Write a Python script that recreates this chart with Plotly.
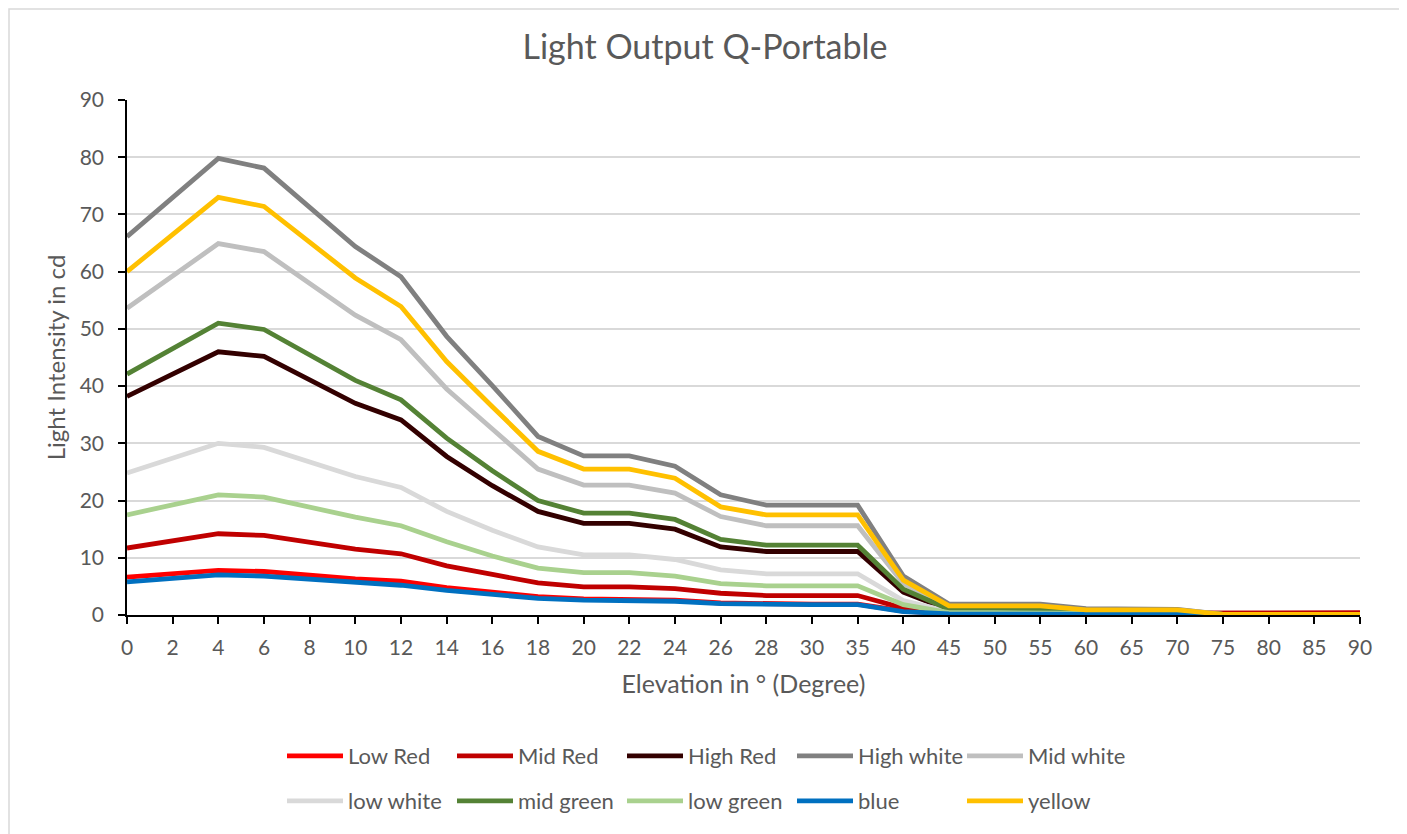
import plotly.graph_objects as go

elevation = ["0", "2", "4", "6", "8", "10", "12", "14", "16", "18", "20", "22", "24", "26",
             "28", "30", "35", "40", "45", "50", "55", "60", "65", "70", "75", "80", "85", "90"]

low_red    = [6.6, 7.2, 7.8, 7.6, 6.9, 6.3, 5.9, 4.8, 4.0, 3.2, 2.8, 2.8, 2.6, 2.1, 1.9, 1.9, 1.9, 0.7, 0.2, 0.2, 0.2, 0.1, 0.1, 0.1, 0.0, 0.0, 0.0, 0.0]
mid_red    = [11.7, 13.0, 14.2, 13.9, 12.7, 11.5, 10.7, 8.6, 7.1, 5.6, 4.9, 4.9, 4.6, 3.8, 3.4, 3.4, 3.4, 1.2, 0.3, 0.3, 0.3, 0.3, 0.3, 0.3, 0.4, 0.4, 0.4, 0.4]
high_red   = [38.2, 42.1, 46.0, 45.2, 41.1, 37.0, 34.1, 27.7, 22.6, 18.1, 16.0, 16.0, 15.0, 11.9, 11.1, 11.1, 11.1, 4.0, 0.9, 0.9, 0.9, 0.5, 0.5, 0.5, 0.1, 0.1, 0.1, 0.1]
high_white = [66.1, 73.0, 79.8, 78.1, 71.3, 64.4, 59.1, 48.7, 40.1, 31.2, 27.8, 27.8, 26.0, 21.0, 19.2, 19.2, 19.2, 6.8, 1.9, 1.9, 1.9, 1.1, 1.1, 1.0, 0.1, 0.1, 0.1, 0.1]
mid_white  = [53.6, 59.2, 64.9, 63.5, 58.0, 52.4, 48.1, 39.5, 32.5, 25.5, 22.7, 22.7, 21.3, 17.2, 15.6, 15.6, 15.6, 5.5, 1.4, 1.4, 1.4, 0.8, 0.8, 0.8, 0.1, 0.1, 0.1, 0.1]
low_white  = [24.8, 27.4, 30.0, 29.3, 26.7, 24.2, 22.3, 18.1, 14.8, 11.9, 10.5, 10.5, 9.7, 7.9, 7.2, 7.2, 7.2, 2.5, 0.6, 0.6, 0.6, 0.3, 0.3, 0.3, 0.0, 0.0, 0.0, 0.0]
mid_green  = [42.1, 46.5, 51.0, 49.9, 45.4, 41.0, 37.6, 30.9, 25.2, 20.0, 17.8, 17.8, 16.7, 13.2, 12.2, 12.2, 12.2, 4.5, 1.0, 1.0, 1.0, 0.6, 0.6, 0.6, 0.1, 0.1, 0.1, 0.1]
low_green  = [17.5, 19.2, 21.0, 20.6, 18.8, 17.1, 15.6, 12.8, 10.3, 8.2, 7.4, 7.4, 6.8, 5.5, 5.1, 5.1, 5.1, 1.8, 0.4, 0.4, 0.4, 0.2, 0.2, 0.2, 0.0, 0.0, 0.0, 0.0]
blue       = [5.8, 6.4, 7.0, 6.8, 6.2, 5.6, 5.2, 4.3, 3.5, 2.9, 2.6, 2.6, 2.4, 2.0, 1.8, 1.8, 1.8, 0.6, 0.2, 0.2, 0.2, 0.2, 0.2, 0.2, 0.0, 0.0, 0.0, 0.0]
yellow     = [60.0, 66.5, 73.0, 71.4, 65.1, 58.9, 53.9, 44.3, 36.4, 28.6, 25.5, 25.5, 23.9, 18.9, 17.5, 17.5, 17.5, 6.1, 1.6, 1.6, 1.6, 0.9, 0.9, 0.9, 0.1, 0.1, 0.1, 0.1]

series_names = ["Low Red", "Mid Red", "High Red", "High white", "Mid white",
                "low white", "mid green", "low green", "blue", "yellow"]
series_values = [low_red, mid_red, high_red, high_white, mid_white,
                 low_white, mid_green, low_green, blue, yellow]
series_colors = ["#FF0000", "#C00000", "#330000", "#808080", "#BFBFBF",
                 "#D9D9D9", "#548235", "#A9D18E", "#0070C0", "#FFC000"]

FONT = "Lato"
TXT = "#595959"

fig = go.Figure()
for i, (name, vals, col) in enumerate(zip(series_names, series_values, series_colors)):
    fig.add_trace(go.Scatter(
        x=elevation, y=vals, name=name, mode="lines",
        line=dict(color=col, width=4.8),
        legend="legend" if i < 5 else "legend2",
    ))

# page offset (body margin) and target plot-area geometry in screen px
OX, OY = 8, 8
W, H = 1407, 834
PL, PR, PT, PB = 127, 1360, 100, 615
L, T = PL - OX, PT - OY
R = W - L - (PR - PL)
B = H - T - (PB - PT)
pw, ph = PR - PL, PB - PT

def px_x(x):
    return (x - PL) / pw

def px_y(y):
    return (PB - y) / ph

legend_common = dict(
    orientation="h", xanchor="left", yanchor="middle",
    font=dict(family=FONT, size=22, color=TXT),
    entrywidth=99, entrywidthmode="pixels",
    bgcolor="rgba(0,0,0,0)", itemwidth=56, tracegroupgap=0,
)

fig.update_layout(
    width=W, height=H,
    margin=dict(l=L, r=R, t=T, b=B, autoexpand=False),
    paper_bgcolor="white", plot_bgcolor="white",
    title=dict(text="Light Output Q-Portable", x=(705 - OX) / W, xref="container", xanchor="center",
               y=1 - (47 - OY) / H, yref="container", yanchor="middle",
               font=dict(family=FONT, size=34, color=TXT)),
    font=dict(family=FONT, color=TXT),
    legend=dict(x=px_x(282), y=px_y(756), **legend_common),
    legend2=dict(x=px_x(282), y=px_y(801), **legend_common),
    xaxis=dict(
        type="category", range=[0, len(elevation) - 1],
        showgrid=False, showline=True, linecolor="black", linewidth=1.5,
        ticks="outside", ticklen=7, tickcolor="black", tickwidth=1.5,
        tickfont=dict(family=FONT, size=21, color=TXT), ticklabelstandoff=6,
        title=dict(text="Elevation in ° (Degree)", standoff=18,
                   font=dict(family=FONT, size=25, color=TXT)),
        zeroline=False,
    ),
    yaxis=dict(
        range=[0, 90], dtick=10,
        showgrid=True, gridcolor="#D9D9D9", gridwidth=1.5,
        showline=True, linecolor="black", linewidth=1.5,
        ticks="outside", ticklen=7, tickcolor="black", tickwidth=1.5,
        tickfont=dict(family=FONT, size=21, color=TXT), ticklabelstandoff=10,
        title=dict(text="Light Intensity in cd", standoff=7,
                   font=dict(family=FONT, size=24, color=TXT)),
        zeroline=False,
    ),
    # overlay axes to give the "cross" style tick marks
    xaxis2=dict(overlaying="x", range=[0, len(elevation) - 1], dtick=1, ticks="inside",
                ticklen=7, tickcolor="black", tickwidth=1.5, showticklabels=False,
                showgrid=False, zeroline=False, side="bottom", showline=False),
    yaxis2=dict(overlaying="y", range=[0, 90], dtick=10, ticks="inside",
                ticklen=7, tickcolor="black", tickwidth=1.5, showticklabels=False,
                showgrid=False, zeroline=False, side="left", showline=False),
    shapes=[dict(type="rect", xref="paper", yref="paper",
                 x0=px_x(9), x1=px_x(1403), y0=px_y(850), y1=px_y(9),
                 line=dict(color="#D9D9D9", width=1.5), fillcolor="rgba(0,0,0,0)",
                 layer="below")],
)

fig.write_html("out.html")
